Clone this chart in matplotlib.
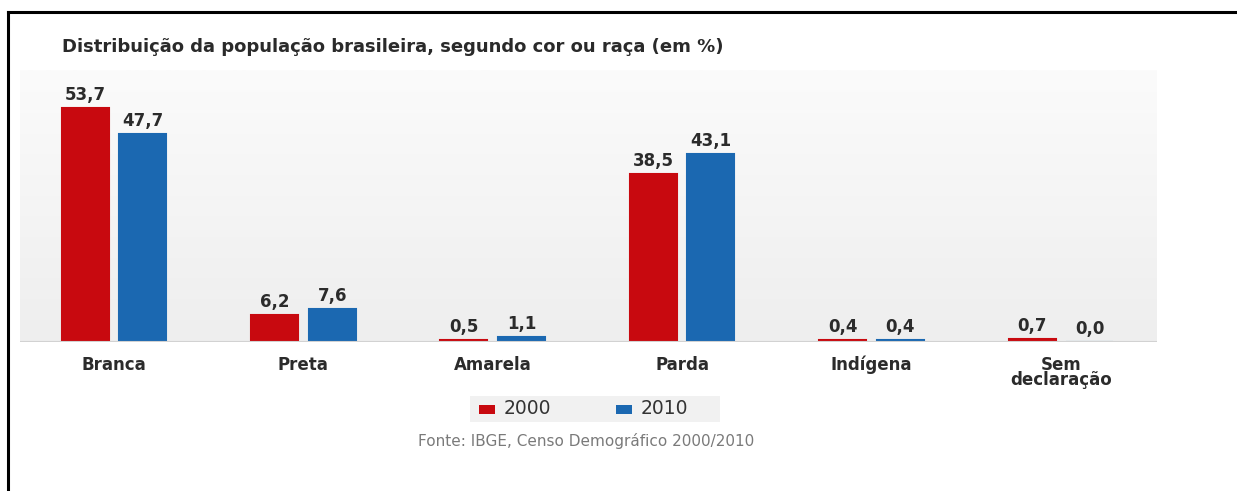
import numpy as np
import matplotlib.pyplot as plt
from matplotlib.patches import Rectangle
from matplotlib.colors import LinearSegmentedColormap

categories = ['Branca', 'Preta', 'Amarela', 'Parda', 'Indígena', 'Sem\ndeclaração']
v2000 = [53.7, 6.2, 0.5, 38.5, 0.4, 0.7]
v2010 = [47.7, 7.6, 1.1, 43.1, 0.4, 0.0]
years = ['2000', '2010']

red = '#c8090f'
blue = '#1b68b1'

plt.rcParams['font.family'] = ['DejaVu Sans']

fig = plt.figure(figsize=(12.37, 4.91), dpi=100)
fig.patch.set_facecolor('white')

# frame lines (top and left) as in the reference
fig.add_artist(plt.Line2D([8 / 1237, 1], [1 - 12 / 491, 1 - 12 / 491], color='black', lw=2.2))
fig.add_artist(plt.Line2D([8 / 1237, 8 / 1237], [2 / 491, 1 - 12 / 491], color='black', lw=2.2))

ax = fig.add_axes([20 / 1237, (491 - 342) / 491, 1137 / 1237, 272 / 491])
x = np.arange(len(categories))
xmin, xmax = -0.496, 5.507
ymax = 62.4
ax.set_xlim(xmin, xmax)
ax.set_ylim(0, ymax)

# soft gray gradient background
grad = np.linspace(0.0, 1.0, 100).reshape(-1, 1)
ax.imshow(grad, extent=[xmin, xmax, 0, ymax], aspect='auto', origin='lower',
          cmap=LinearSegmentedColormap.from_list('bg', ['#eeeeee', '#fbfbfb']), zorder=0)

w = 0.248
off = 0.152
ax.bar(x - off, v2000, w, color=red, edgecolor=red, linewidth=1.5, zorder=2, label=years[0])
ax.bar(x + off, v2010, w, color=blue, edgecolor=blue, linewidth=1.5, zorder=2, label=years[1])

for xs, vals in [(x - off, v2000), (x + off, v2010)]:
    for xi, v in zip(xs, vals):
        ax.text(xi, v + 0.9, f'{v:.1f}'.replace('.', ','), ha='center', va='bottom',
                fontsize=12, fontweight='bold', color='#2b2b2b')

ax.axhline(0, color='#d2d2d2', lw=1.5, zorder=3)
for s in ax.spines.values():
    s.set_visible(False)
ax.set_yticks([])
ax.set_xticks(x)
ax.set_xticklabels(categories, fontsize=12, fontweight='bold', color='#2b2b2b', linespacing=0.8)
ax.tick_params(axis='x', length=0, pad=10)

fig.text(62 / 1237, 1 - 47 / 491, 'Distribuição da população brasileira, segundo cor ou raça (em %)',
         fontsize=13, fontweight='bold', color='#2a2a2a', va='center', ha='left')

# legend box
fig.patches.append(Rectangle((470 / 1237, 1 - 422 / 491), 250 / 1237, 26 / 491,
                             transform=fig.transFigure, facecolor='#f1f1f1', edgecolor='none'))
fig.patches.append(Rectangle((479 / 1237, 1 - 414 / 491), 16 / 1237, 9 / 491,
                             transform=fig.transFigure, facecolor=red, edgecolor='none'))
fig.text(504 / 1237, 1 - 409 / 491, years[0], fontsize=13.5, color='#333333', va='center')
fig.patches.append(Rectangle((616 / 1237, 1 - 414 / 491), 16 / 1237, 9 / 491,
                             transform=fig.transFigure, facecolor=blue, edgecolor='none'))
fig.text(641 / 1237, 1 - 409 / 491, years[1], fontsize=13.5, color='#333333', va='center')

fig.text(586 / 1237, 1 - 441 / 491, 'Fonte: IBGE, Censo Demográfico 2000/2010',
         fontsize=11, color='#7a7a7a', va='center', ha='center')

fig.savefig('out.png', dpi=100)
